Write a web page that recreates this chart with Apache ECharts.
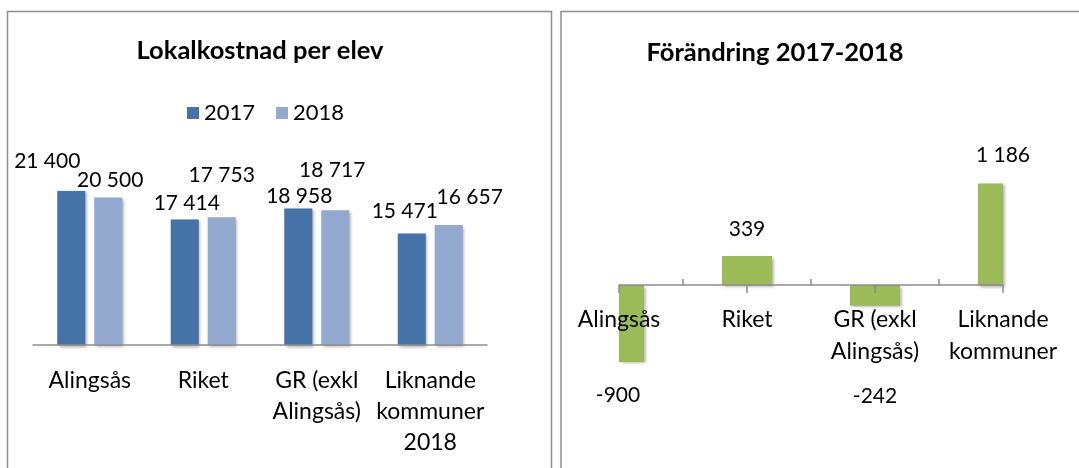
<!DOCTYPE html>
<html>
<head>
<meta charset="utf-8">
<script src="https://cdn.jsdelivr.net/npm/echarts@6/dist/echarts.min.js"></script>
<style>
html,body{margin:0;padding:0;background:#fff;}
#c{width:1079px;height:468px;}
</style>
</head>
<body>
<div id="c"></div>
<script>
// ---- data ----
const leftTitle = 'Lokalkostnad per elev';
const rightTitle = 'Förändring 2017-2018';
const seriesNames = ['2017', '2018'];
const leftCategories = ['Alingsås', 'Riket', 'GR (exkl\nAlingsås)', 'Liknande\nkommuner\n2018'];
const values2017 = [21400, 17414, 18958, 15471];
const values2018 = [20500, 17753, 18717, 16657];
const rightCategories = ['Alingsås', 'Riket', 'GR (exkl\nAlingsås)', 'Liknande\nkommuner'];
const changeValues = [-900, 339, -242, 1186];

// ---- label placement tweaks (mimicking the original's label layout) ----
const offsets2017 = [[-24, -14], [2, -1], [1, 3], [-7, -7]];
const offsets2018 = [[2, -2], [0, -26], [-3, -25], [21, -12]];
const offsetsChange = [[-1, 17], [0, -11], [0, 75], [0, -12]];

const FONT = 'Lato, "Noto Sans", sans-serif';
const fmt = v => String(v).replace(/\B(?=(\d{3})+(?!\d))/g, ' ');

const chart = echarts.init(document.getElementById('c'), null, {renderer: 'canvas'});

const labelBase = {show: true, position: 'top', distance: 5, fontFamily: FONT, fontSize: 21, color: '#000',
  formatter: p => fmt(Array.isArray(p.value) ? p.value[1] : p.value)};

const shadow = {shadowBlur: 3, shadowColor: 'rgba(0,0,0,0.35)', shadowOffsetX: 1.5, shadowOffsetY: 1.5};

const mkLeft = (vals, offs) => vals.map((v, i) => ({value: v, label: {offset: offs[i]}}));
const changeData = changeValues.map((v, i) => [i, v]);
const changeLabels = changeValues.map((v, i) => ({
  value: [i, v],
  label: {position: v < 0 ? 'bottom' : 'top', offset: offsetsChange[i]}
}));

// interleaved slots for the tick-only axis (categories and midpoints)
const tickSlots = [];
rightCategories.forEach((c, i) => { tickSlots.push(c); if (i < rightCategories.length - 1) tickSlots.push(c + '|mid'); });

const RIGHT_BAR_W = 50;
const rightGrid = {left: 619, right: 1079 - 1003, top: 156.75, bottom: 468 - 413.25};
const rightMin = -1500, rightMax = 1500;
const rightGridH = 468 - rightGrid.top - rightGrid.bottom;
// move the category axis up onto the zero line
const zeroOffset = -rightGridH * (0 - rightMin) / (rightMax - rightMin);

const option = {
  backgroundColor: '#fff',
  animation: false,
  textStyle: {fontFamily: FONT},
  title: [
    {text: leftTitle, left: 260, top: 38, textAlign: 'center', padding: 0,
      textStyle: {fontFamily: FONT, fontWeight: 'bold', fontSize: 25.5, color: '#000'}},
    {text: rightTitle, left: 775, top: 40, textAlign: 'center', padding: 0,
      textStyle: {fontFamily: FONT, fontWeight: 'bold', fontSize: 25.5, color: '#000'}}
  ],
  legend: {
    left: 187, top: 102, padding: 0, itemWidth: 12, itemHeight: 12, itemGap: 21, icon: 'rect',
    textStyle: {fontFamily: FONT, fontSize: 22, color: '#000'},
    data: seriesNames
  },
  graphic: [
    {type: 'rect', shape: {x: 7.5, y: 11.5, width: 544, height: 480}, style: {fill: 'none', stroke: '#8c8c8c', lineWidth: 1.5}, z: 100, silent: true},
    {type: 'rect', shape: {x: 561, y: 11.5, width: 540, height: 480}, style: {fill: 'none', stroke: '#8c8c8c', lineWidth: 1.5}, z: 100, silent: true}
  ],
  grid: [
    {left: 33, right: 1079 - 487, top: 165, bottom: 468 - 345, outerBoundsMode: 'none', containLabel: false},
    Object.assign({outerBoundsMode: 'none', containLabel: false}, rightGrid)
  ],
  xAxis: [
    {type: 'category', gridIndex: 0, data: leftCategories, z: 3,
      axisLine: {lineStyle: {color: '#8c8c8c', width: 1.5}},
      axisTick: {show: false},
      axisLabel: {fontFamily: FONT, fontSize: 23, color: '#000', lineHeight: 31, margin: 20, interval: 0}},
    {type: 'category', gridIndex: 1, data: rightCategories, boundaryGap: false, position: 'bottom', z: 3,
      offset: zeroOffset,
      axisLine: {onZero: false, lineStyle: {color: '#8c8c8c', width: 1.5}},
      axisTick: {show: true, length: 8, lineStyle: {color: '#8c8c8c', width: 1.5}},
      axisLabel: {fontFamily: FONT, fontSize: 23, color: '#000', lineHeight: 32, margin: 19, interval: 0}},
    {type: 'category', gridIndex: 1, data: tickSlots, boundaryGap: false, position: 'bottom', z: 3,
      offset: zeroOffset,
      axisLine: {show: false, onZero: false},
      axisTick: {show: true, inside: true, length: 6, interval: (idx) => idx % 2 === 1,
        lineStyle: {color: '#8c8c8c', width: 1.5}},
      axisLabel: {show: false}}
  ],
  yAxis: [
    {type: 'value', gridIndex: 0, min: 0, max: 25000, show: false, splitLine: {show: false}},
    {type: 'value', gridIndex: 1, min: rightMin, max: rightMax, show: false, splitLine: {show: false}}
  ],
  series: [
    {name: seriesNames[0], type: 'bar', xAxisIndex: 0, yAxisIndex: 0, barWidth: 28, barGap: '32%',
      itemStyle: Object.assign({color: '#4572A7'}, shadow),
      label: labelBase, data: mkLeft(values2017, offsets2017)},
    {name: seriesNames[1], type: 'bar', xAxisIndex: 0, yAxisIndex: 0, barWidth: 28, barGap: '32%',
      itemStyle: Object.assign({color: '#93A9D0'}, shadow),
      label: labelBase, data: mkLeft(values2018, offsets2018)},
    {name: 'Förändring', type: 'custom', xAxisIndex: 1, yAxisIndex: 1, z: 2,
      encode: {x: 0, y: 1},
      renderItem: (params, api) => {
        const cat = api.value(0);
        const base = api.coord([cat, 0]);
        const tip = api.coord([cat, api.value(1)]);
        const cs = params.coordSys;
        const shape = echarts.graphic.clipRectByRect(
          {x: base[0] - RIGHT_BAR_W / 2, y: Math.min(base[1], tip[1]), width: RIGHT_BAR_W, height: Math.abs(tip[1] - base[1])},
          {x: cs.x, y: cs.y, width: cs.width, height: cs.height});
        if (!shape) return null;
        return {type: 'rect', shape: shape, style: Object.assign({fill: '#9BBB59'}, shadow)};
      },
      data: changeData},
    {name: 'FörändringLabels', type: 'scatter', xAxisIndex: 1, yAxisIndex: 1, clip: false, z: 5,
      symbolSize: 1, itemStyle: {color: 'rgba(0,0,0,0)', opacity: 1},
      emphasis: {disabled: true},
      label: Object.assign({}, labelBase, {distance: 5}), data: changeLabels}
  ]
};
chart.setOption(option);
</script>
</body>
</html>
